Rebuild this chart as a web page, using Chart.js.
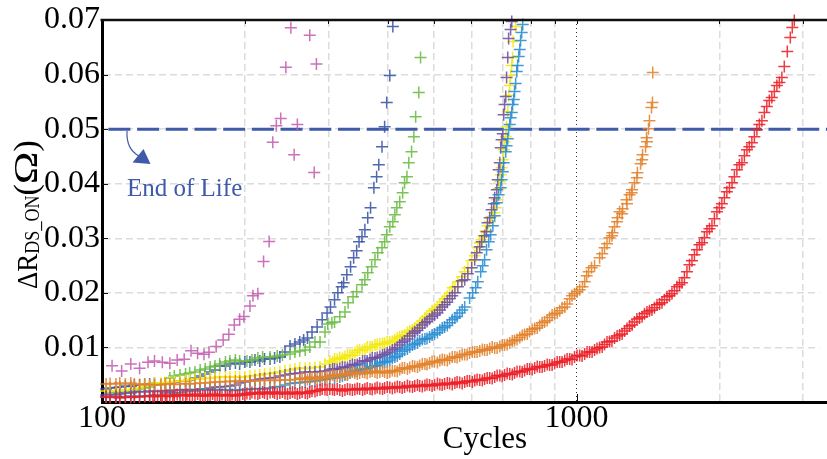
<!DOCTYPE html>
<html>
<head>
<meta charset="utf-8">
<script src="https://cdn.jsdelivr.net/npm/chart.js@4"></script>
<style>
  html, body { margin: 0; padding: 0; background: #fff; }
  #wrap { width: 827px; height: 459px; }
</style>
</head>
<body>
<div id="wrap"><canvas id="chart" width="827" height="459"></canvas></div>
<script>
const FONT = "'Liberation Serif', 'Times New Roman', serif";

// grid lines on the cycle axis, and the few that carry a label
const xTicks = [100, 200, 300, 400, 500, 600, 700, 800, 900, 1000, 2000, 3000];
const xLabels = [100, 1000];
const X_MIN = 100, X_MAX = 3249;
const yTicks = [0.01, 0.02, 0.03, 0.04, 0.05, 0.06, 0.07];
const Y_MIN = 0, Y_MAX = 0.07, Y_STEP = 0.01;
// end of life threshold (ohm)
const EOL = 0.05;

// [cycles, delta R_DS_ON] for each device
const magenta = [[105,0.00666],[110,0.00569],[115,0.00697],[120,0.00618],[125,0.00728],[129,0.00752],[134,0.00728],[139,0.0071],[144,0.00771],[149,0.00783],[154,0.00941],[159,0.00894],[164,0.00875],[168,0.00912],[174,0.01015],[180,0.01138],[185,0.01242],[190,0.01413],[195,0.01517],[199,0.01565],[205,0.01761],[208,0.01945],[213,0.01982],[219,0.02574],[225,0.02941],[229,0.04758],[233,0.05064],[238,0.05193],[244,0.06134],[250,0.06857],[254,0.04532],[258,0.05083],[274,0.06721],[280,0.04207],[283,0.06196]];

const blue = [[102,0.00239],[104,0.00257],[107,0.00266],[109,0.00275],[112,0.00294],[115,0.00284],[117,0.00312],[120,0.00312],[123,0.00321],[126,0.0033],[129,0.00349],[133,0.0033],[136,0.00349],[139,0.00349],[142,0.00367],[146,0.00385],[150,0.00385],[153,0.00404],[157,0.0044],[161,0.00477],[165,0.00514],[169,0.0055],[173,0.00587],[177,0.00661],[182,0.00661],[186,0.00697],[191,0.00716],[195,0.00697],[200,0.00734],[205,0.00734],[210,0.00771],[215,0.00752],[220,0.00789],[226,0.00789],[231,0.00807],[237,0.00826],[243,0.00917],[249,0.01028],[255,0.01064],[261,0.01101],[266,0.01138],[271,0.01174],[277,0.01284],[284,0.01376],[291,0.01505],[298,0.01633],[303,0.01743],[309,0.01872],[314,0.02],[320,0.0211],[323,0.02184],[328,0.0233],[334,0.02477],[339,0.02642],[344,0.02771],[348,0.02936],[353,0.03028],[358,0.03156],[363,0.03376],[368,0.0356],[374,0.03927],[379,0.04128],[383,0.04349],[389,0.04679],[394,0.05046],[398,0.05486],[404,0.05982],[410,0.06881]];

const green = [[104,0.00165],[107,0.00183],[109,0.00165],[112,0.00202],[115,0.00202],[117,0.0022],[120,0.00239],[123,0.00257],[126,0.00275],[129,0.00312],[133,0.0033],[136,0.00349],[139,0.0044],[142,0.00477],[146,0.00495],[150,0.00514],[153,0.00532],[157,0.0055],[161,0.00587],[165,0.00606],[169,0.00642],[173,0.00661],[177,0.00697],[182,0.00734],[186,0.00752],[191,0.00771],[195,0.00752],[202,0.00752],[207,0.00771],[213,0.00807],[218,0.00826],[226,0.00826],[234,0.00844],[240,0.00862],[249,0.00881],[255,0.00917],[261,0.00936],[268,0.00954],[274,0.01009],[281,0.01101],[288,0.01101],[295,0.01284],[299,0.01431],[305,0.0145],[309,0.01468],[317,0.0156],[325,0.01651],[330,0.01817],[338,0.01927],[344,0.02018],[353,0.02147],[358,0.02239],[363,0.02367],[370,0.02477],[376,0.02606],[381,0.02734],[389,0.02826],[394,0.02936],[398,0.03064],[404,0.03211],[410,0.03303],[414,0.03431],[418,0.0356],[424,0.0367],[430,0.03835],[434,0.04018],[439,0.04128],[443,0.04385],[449,0.04587],[454,0.04862],[458,0.05229],[465,0.0567],[469,0.06312]];

const yellow = [[102,0.00202],[104,0.00211],[107,0.00202],[109,0.0022],[112,0.00211],[115,0.0022],[117,0.00239],[120,0.00257],[123,0.00294],[126,0.00312],[129,0.00349],[133,0.00349],[136,0.00358],[139,0.00367],[142,0.00376],[146,0.00385],[150,0.00394],[153,0.00413],[157,0.00422],[161,0.00422],[165,0.0044],[169,0.0044],[173,0.0045],[177,0.00459],[182,0.00459],[186,0.00459],[191,0.00459],[195,0.00459],[200,0.00459],[205,0.00477],[210,0.00486],[215,0.00495],[220,0.00514],[226,0.00523],[231,0.00532],[237,0.0055],[243,0.00569],[249,0.00587],[255,0.00606],[261,0.00624],[268,0.00615],[274,0.00624],[281,0.00633],[288,0.00642],[295,0.00697],[302,0.00752],[309,0.00789],[317,0.00817],[325,0.00835],[333,0.00862],[341,0.00908],[349,0.00954],[358,0.00972],[367,0.01009],[376,0.01046],[385,0.01064],[394,0.01073],[404,0.01101],[414,0.01138],[424,0.01193],[434,0.01229],[445,0.01303],[456,0.01358],[467,0.01431],[479,0.01541],[490,0.01615],[502,0.01706],[515,0.0178],[527,0.0189],[540,0.02],[548,0.02092],[554,0.0211],[562,0.02202],[573,0.02294],[581,0.02385],[590,0.02459],[601,0.02587],[610,0.02679],[619,0.02826],[625,0.02917],[631,0.02973],[637,0.03046],[643,0.03138],[649,0.03229],[656,0.03303],[662,0.03395],[669,0.03468],[675,0.0356],[679,0.03706],[685,0.03908],[689,0.04037],[692,0.04165],[695,0.04294],[699,0.0444],[702,0.04624],[705,0.04771],[709,0.04862],[712,0.05046],[716,0.05321],[719,0.05615],[723,0.05798],[726,0.05982],[730,0.06165],[733,0.06312],[735,0.06606],[744,0.06881],
  [306,0.00734],[313,0.0078],[321,0.00798],[329,0.00862],[337,0.00853],[345,0.00945],[354,0.00945],[362,0.01009],[371,0.01009],[380,0.01055],[390,0.01073],[399,0.01101],[409,0.0111],[419,0.01174],[429,0.01211],[440,0.01275],[451,0.01321],[462,0.01394],[473,0.01486],[484,0.01569],[496,0.0167],[509,0.01734],[521,0.01835],[534,0.01936]];

const purple = [[102,0.00128],[104,0.00138],[107,0.00128],[109,0.00147],[112,0.00165],[115,0.00165],[117,0.00183],[120,0.00193],[123,0.00183],[126,0.00202],[129,0.00193],[133,0.00202],[136,0.00211],[139,0.00202],[142,0.0022],[146,0.0022],[150,0.00229],[153,0.0022],[157,0.00229],[161,0.00239],[165,0.00239],[169,0.00257],[173,0.00275],[177,0.00275],[182,0.00284],[186,0.00294],[191,0.00312],[195,0.00349],[200,0.00367],[205,0.00385],[210,0.00404],[215,0.00422],[220,0.00431],[226,0.0044],[231,0.0045],[237,0.00477],[243,0.00495],[249,0.00514],[255,0.00523],[261,0.00532],[268,0.0055],[274,0.0055],[281,0.0055],[288,0.0056],[295,0.00569],[302,0.00587],[309,0.00606],[317,0.00615],[325,0.00633],[333,0.00661],[341,0.00679],[349,0.00716],[358,0.00752],[367,0.0078],[376,0.00807],[385,0.00835],[394,0.00872],[404,0.00917],[414,0.00972],[424,0.01046],[434,0.01119],[445,0.01211],[456,0.01284],[467,0.01358],[479,0.0145],[490,0.01523],[502,0.01596],[515,0.01688],[527,0.0178],[540,0.0189],[554,0.02],[562,0.0211],[573,0.0222],[581,0.02239],[590,0.02349],[601,0.02459],[610,0.02606],[616,0.02734],[625,0.02844],[631,0.02936],[640,0.03046],[646,0.03119],[649,0.03284],[656,0.03376],[662,0.03523],[669,0.03633],[672,0.03743],[679,0.0389],[682,0.04073],[685,0.04257],[689,0.04385],[692,0.04661],[695,0.04807],[699,0.04917],[702,0.05266],[705,0.0545],[709,0.05596],[712,0.05945],[716,0.06312],[719,0.06661],[726,0.06826],[730,0.06973],
  [306,0.00606],[313,0.00596],[321,0.00642],[329,0.00633],[337,0.00688],[345,0.00688],[354,0.00752],[362,0.00752],[371,0.00807],[380,0.00817],[390,0.00862],[399,0.00899],[409,0.00954],[419,0.01],[429,0.01092],[440,0.01156],[451,0.01257],[462,0.01312],[473,0.01413],[484,0.01477],[496,0.01569],[509,0.01633],[521,0.01743],[534,0.01826],[547,0.01945]];

const lightBlue = [[102,0.00092],[104,0.00101],[107,0.00092],[109,0.00092],[112,0.00101],[115,0.0011],[117,0.00101],[120,0.0011],[123,0.0011],[126,0.00119],[129,0.00128],[133,0.00119],[136,0.00165],[139,0.00183],[142,0.00165],[146,0.00174],[150,0.00202],[153,0.00211],[157,0.00202],[161,0.0022],[165,0.00229],[169,0.0022],[173,0.0022],[177,0.00229],[182,0.0022],[186,0.0022],[191,0.00211],[195,0.0022],[200,0.00229],[205,0.00239],[210,0.00239],[215,0.00248],[220,0.00239],[226,0.00257],[231,0.00275],[237,0.00284],[243,0.00312],[249,0.00339],[255,0.00349],[261,0.00358],[268,0.00367],[274,0.00376],[281,0.00385],[288,0.00404],[295,0.00413],[302,0.00431],[309,0.0044],[317,0.00459],[325,0.00495],[333,0.00532],[341,0.00569],[349,0.00587],[358,0.00606],[367,0.00633],[376,0.00661],[385,0.00697],[394,0.00734],[404,0.00771],[414,0.00826],[424,0.00881],[434,0.00954],[445,0.01009],[456,0.01064],[467,0.01119],[479,0.01156],[490,0.01193],[502,0.01248],[515,0.01321],[527,0.01376],[540,0.0145],[554,0.01541],[567,0.01633],[581,0.01743],[595,0.01908],[604,0.02],[613,0.02092],[619,0.02202],[628,0.02385],[634,0.02495],[640,0.02606],[646,0.02789],[653,0.02936],[659,0.03064],[666,0.03229],[672,0.03413],[679,0.03651],[685,0.03798],[692,0.03927],[695,0.04073],[699,0.0422],[702,0.04385],[709,0.04587],[712,0.04697],[716,0.04826],[719,0.04991],[723,0.05083],[726,0.05211],[730,0.05303],[733,0.0545],[737,0.05541],[740,0.05688],[744,0.05835],[748,0.06055],[751,0.06165],[755,0.0633],[759,0.06459],[762,0.06624],[766,0.06771],[770,0.06918],
  [321,0.00477],[329,0.00505],[337,0.0056],[345,0.00569],[354,0.00606],[362,0.00615],[371,0.00651],[380,0.0067],[390,0.00725],[399,0.00743],[409,0.00807],[419,0.00844],[429,0.00927],[440,0.00972],[451,0.01046],[462,0.01083],[473,0.01147],[484,0.01165],[496,0.01229],[509,0.01275],[521,0.01358],[534,0.01404],[547,0.01505],[560,0.01569],[574,0.01688]];

const orange = [[102,0.0033],[104,0.00339],[107,0.0033],[109,0.00349],[112,0.0033],[115,0.00349],[117,0.0033],[120,0.00321],[123,0.0033],[126,0.00312],[129,0.00321],[133,0.00312],[136,0.0033],[139,0.0033],[142,0.00321],[146,0.0033],[150,0.00339],[153,0.0033],[157,0.00339],[161,0.00349],[165,0.00349],[169,0.00358],[173,0.00367],[177,0.00367],[182,0.00376],[186,0.00376],[191,0.00385],[195,0.00385],[200,0.00385],[205,0.00385],[210,0.00385],[215,0.00394],[220,0.00394],[226,0.00404],[231,0.00394],[237,0.00404],[243,0.00404],[249,0.00404],[255,0.00413],[261,0.00422],[268,0.00431],[274,0.0044],[281,0.0044],[288,0.0045],[295,0.00459],[302,0.00477],[309,0.00486],[317,0.00495],[325,0.00514],[333,0.00532],[341,0.00532],[349,0.00532],[358,0.00541],[367,0.0055],[376,0.0055],[385,0.0055],[394,0.0055],[404,0.0055],[414,0.00569],[424,0.00596],[434,0.00624],[445,0.00633],[456,0.00651],[467,0.0067],[479,0.00697],[490,0.00716],[502,0.00743],[515,0.00761],[527,0.00771],[540,0.00798],[554,0.00826],[567,0.00844],[581,0.00872],[595,0.00899],[610,0.00917],[625,0.00936],[640,0.00954],[656,0.00982],[672,0.00991],[689,0.01018],[705,0.01046],[723,0.01083],[740,0.01128],[759,0.01183],[777,0.01239],[796,0.01294],[816,0.01349],[836,0.01404],[856,0.01468],[877,0.0155],[899,0.01615],[921,0.0167],[944,0.01743],[967,0.0189],[990,0.01982],[1015,0.02055],[1029,0.0211],[1040,0.02202],[1050,0.02312],[1060,0.02385],[1075,0.02459],[1091,0.02495],[1118,0.02642],[1145,0.02826],[1173,0.03009],[1190,0.03101],[1202,0.03211],[1220,0.03376],[1232,0.03486],[1250,0.03541],[1274,0.03706],[1293,0.03798],[1306,0.03835],[1324,0.04018],[1343,0.04202],[1364,0.04367],[1377,0.04532],[1397,0.04679],[1404,0.04844],[1417,0.05009],[1424,0.05156],[1438,0.05395],[1445,0.05486],[1447,0.06037],
  [264,0.0044],[271,0.00413],[277,0.00459],[284,0.00422],[291,0.00468],[298,0.0044],[306,0.00495],[313,0.00468],[321,0.00514],[329,0.00495],[337,0.0055],[345,0.00514],[354,0.0055],[362,0.00523],[371,0.00569],[380,0.00532],[390,0.00569],[399,0.00532],[409,0.00578],[419,0.0056],[429,0.00624],[440,0.00606],[451,0.00661],[462,0.00642],[473,0.00697],[484,0.00688],[496,0.00743],[509,0.00725],[521,0.0078],[534,0.00761],[547,0.00826],[560,0.00817],[574,0.00872],[588,0.00872],[603,0.00917],[617,0.00917],[633,0.00963],[648,0.00954],[664,0.01009],[680,0.00991],[697,0.01046],[714,0.01055],[732,0.01119],[749,0.01147],[768,0.0122],[787,0.01248],[806,0.0133],[826,0.01358],[846,0.0145],[867,0.01495],[888,0.01596],[910,0.01633],[932,0.01725],[955,0.01798],[978,0.01945],[1002,0.02018],[1132,0.02716],[1159,0.02899],[1187,0.03046],[1217,0.03303],[1247,0.0345],[1277,0.03633],[1309,0.0389],[1340,0.0411],[1374,0.0444],[1407,0.04771]];

const red = [[102,0.00092],[104,0.00083],[107,0.00092],[109,0.00073],[112,0.00092],[115,0.00083],[117,0.00092],[120,0.00092],[123,0.00101],[126,0.0011],[129,0.00101],[133,0.0011],[136,0.0011],[139,0.0011],[142,0.00119],[146,0.00128],[150,0.00128],[153,0.00119],[157,0.00128],[161,0.00119],[165,0.0011],[169,0.00128],[173,0.00119],[177,0.00128],[182,0.00128],[186,0.00119],[191,0.0011],[195,0.00128],[200,0.00128],[205,0.00147],[210,0.00156],[215,0.00165],[220,0.00165],[226,0.00174],[231,0.00165],[237,0.00165],[243,0.00156],[249,0.00165],[255,0.00165],[261,0.00165],[268,0.00165],[274,0.00183],[281,0.00193],[288,0.0022],[295,0.00229],[302,0.00239],[309,0.0022],[317,0.0022],[325,0.0022],[333,0.00229],[341,0.00229],[349,0.00239],[358,0.00239],[367,0.00239],[376,0.00248],[385,0.00248],[394,0.00257],[404,0.00266],[414,0.00266],[424,0.00275],[434,0.00275],[445,0.00284],[456,0.00294],[467,0.00294],[479,0.00303],[490,0.00312],[502,0.00312],[515,0.00321],[527,0.0033],[540,0.00339],[554,0.00349],[567,0.00358],[581,0.00367],[595,0.00385],[610,0.00394],[625,0.00404],[640,0.00422],[656,0.0044],[672,0.00459],[689,0.00486],[705,0.00495],[723,0.00514],[740,0.00532],[759,0.0056],[777,0.00578],[796,0.00606],[816,0.00624],[836,0.00642],[856,0.00661],[877,0.00679],[899,0.00706],[921,0.00734],[944,0.00761],[967,0.00789],[990,0.00826],[1015,0.00853],[1040,0.00881],[1065,0.00917],[1091,0.00954],[1118,0.01],[1145,0.01055],[1173,0.0111],[1202,0.01174],[1232,0.01229],[1262,0.01303],[1293,0.01394],[1324,0.01468],[1357,0.01541],[1390,0.01615],[1424,0.0167],[1459,0.01725],[1495,0.01798],[1531,0.01872],[1569,0.01945],[1607,0.02037],[1647,0.02147],[1687,0.02275],[1729,0.02514],[1771,0.02697],[1815,0.02881],[1859,0.03009],[1905,0.03174],[1951,0.03358],[1999,0.0356],[2048,0.03743],[2099,0.03927],[2150,0.04128],[2203,0.04349],[2257,0.04514],[2312,0.04679],[2369,0.04862],[2427,0.05083],[2486,0.05303],[2547,0.05523],[2610,0.05688],[2674,0.05853],[2739,0.06147],[2779,0.06422],[2820,0.06679],[2847,0.06862],[2875,0.0699],
  [128,0.00101],[131,0.00119],[134,0.00101],[137,0.00128],[141,0.00101],[144,0.00138],[148,0.0011],[151,0.00138],[155,0.0011],[159,0.00147],[163,0.0011],[167,0.00128],[171,0.00147],[175,0.0011],[179,0.00138],[184,0.0011],[188,0.00138],[193,0.00128],[198,0.00147],[202,0.00156],[207,0.00174],[213,0.00147],[218,0.00183],[223,0.00147],[229,0.00183],[234,0.00147],[240,0.00183],[246,0.00147],[252,0.00183],[258,0.00147],
  [264,0.00183],[271,0.00156],[277,0.00202],[284,0.00211],[291,0.00239],[298,0.0022],[306,0.00229],[313,0.00239],[321,0.00202],[329,0.00239],[337,0.0022],[345,0.00248],[354,0.0022],[362,0.00257],[371,0.00229],[380,0.00266],[390,0.00239],[399,0.00275],[409,0.00248],[419,0.00284],[429,0.00257],[440,0.00303],[451,0.00275],[462,0.00312],[473,0.00284],[484,0.00321],[496,0.00294],[509,0.00339],[521,0.00312],[534,0.00349],[547,0.00321],[560,0.00367],[574,0.00339],[588,0.00385],[603,0.00367],[617,0.00413],[633,0.00394],[648,0.0044],[664,0.00431],[680,0.00486],[697,0.00468],[714,0.00523],[732,0.00505],[749,0.0056],[768,0.0055],[787,0.00606],[806,0.00596],[826,0.00651],[846,0.00642],[867,0.00688],[888,0.00679],[910,0.00734],[932,0.00734],[955,0.00789],[978,0.0078],[1002,0.00853],[1027,0.00844],[1052,0.00917],[1078,0.00917],[1104,0.00982],[1132,0.01009],[1159,0.01101],[1187,0.01119],[1217,0.01211],[1247,0.01248],[1277,0.01349],[1309,0.01413],[1340,0.01523],[1374,0.0156],[1407,0.01651],[1441,0.01688],[1477,0.0178],[1513,0.01817],[1550,0.01927],[1588,0.01982],[1627,0.0211],[1667,0.02184],[1708,0.02385],[1750,0.02587],[1793,0.02789],[1837,0.02917],[1882,0.03119],[1928,0.03229],[1975,0.03486],[2023,0.03633],[2073,0.03853],[2125,0.04018],[2176,0.04257],[2230,0.04385],[2285,0.04624],[2340,0.04752],[2398,0.04991],[2457,0.05156],[2516,0.05413],[2578,0.05578],[2642,0.05798],[2707,0.05945]];

// first entry ends up drawn on top
const series = [
  { pts: red,       color: 'rgba(236, 32, 40, 0.88)' },
  { pts: orange,    color: 'rgba(226, 130, 43, 0.88)' },
  { pts: lightBlue, color: 'rgba(40, 140, 210, 0.88)' },
  { pts: purple,    color: 'rgba(110, 79, 160, 0.88)' },
  { pts: yellow,    color: 'rgba(244, 234, 20, 0.95)' },
  { pts: green,     color: 'rgba(108, 189, 69, 0.9)' },
  { pts: blue,      color: 'rgba(61, 88, 168, 0.9)' },
  { pts: magenta,   color: 'rgba(197, 97, 179, 0.9)' }
];

const EOL_BLUE = '#3f5aa8';

// threshold line, frame edges, small axis ticks, titles and the "End of Life" note
const decorations = {
  id: 'decorations',
  beforeDatasetsDraw(chart) {
    const { ctx, chartArea, scales } = chart;
    const y = scales.y.getPixelForValue(EOL);
    ctx.save();
    ctx.strokeStyle = EOL_BLUE;
    ctx.lineWidth = 3;
    ctx.setLineDash([22, 6.7]);
    ctx.lineDashOffset = -6.4;
    ctx.beginPath();
    ctx.moveTo(chartArea.left, y);
    ctx.lineTo(chart.width, y);
    ctx.stroke();
    ctx.restore();
  },
  afterDraw(chart) {
    const { ctx, chartArea, scales } = chart;
    ctx.save();

    // top edge of the frame, and the bottom axis carried to the canvas edge
    ctx.strokeStyle = '#111';
    ctx.lineWidth = 2.5;
    ctx.beginPath();
    ctx.moveTo(chartArea.left - 1.5, chartArea.top);
    ctx.lineTo(chart.width, chartArea.top);
    ctx.stroke();
    const yAxis = Math.round(chartArea.bottom) + 0.5;
    ctx.strokeStyle = '#000';
    ctx.lineWidth = 3;
    ctx.beginPath();
    ctx.moveTo(chartArea.right - 2, yAxis);
    ctx.lineTo(chart.width, yAxis);
    ctx.stroke();

    // short inward ticks on the left axis and under the top edge
    ctx.strokeStyle = '#111';
    ctx.lineWidth = 1;
    ctx.beginPath();
    yTicks.forEach(v => {
      const py = Math.round(scales.y.getPixelForValue(v)) + 0.5;
      ctx.moveTo(chartArea.left, py);
      ctx.lineTo(chartArea.left + 6, py);
    });
    xTicks.slice(1).forEach(v => {
      const px = Math.round(scales.x.getPixelForValue(v)) + 0.5;
      ctx.moveTo(px, chartArea.top);
      ctx.lineTo(px, chartArea.top + 4);
    });
    const p1000 = Math.round(scales.x.getPixelForValue(1000)) + 0.5;
    ctx.moveTo(p1000, chartArea.bottom);
    ctx.lineTo(p1000, chartArea.bottom - 8);
    ctx.stroke();

    // x title
    ctx.fillStyle = '#000';
    ctx.font = '31px ' + FONT;
    ctx.textAlign = 'center';
    ctx.textBaseline = 'alphabetic';
    ctx.fillText('Cycles', 485, 448);

    // y title: ΔR with DS_ON subscript, then (Ω)
    ctx.save();
    ctx.translate(37, 289);
    ctx.rotate(-Math.PI / 2);
    ctx.textAlign = 'left';
    ctx.save();
    ctx.scale(0.9, 1);
    ctx.font = '30px ' + FONT;
    ctx.fillText('ΔR', 0, 0);
    let x = ctx.measureText('ΔR').width;
    ctx.font = '20px ' + FONT;
    ctx.fillText('DS_ON', x, 2);
    x += ctx.measureText('DS_ON').width;
    ctx.restore();
    x *= 0.9;
    ctx.font = '34px ' + FONT;
    ctx.fillText('(', x, 0);
    x += ctx.measureText('(').width;
    const omegaW = ctx.measureText('Ω').width;
    const stretch = 1.3;
    ctx.save();
    ctx.translate(x, 0);
    ctx.scale(stretch, 1);
    ctx.fillText('Ω', 0, 0);
    ctx.restore();
    x += omegaW * stretch;
    ctx.fillText(')', x, 0);
    ctx.restore();

    // end of life note with curved arrow
    ctx.fillStyle = EOL_BLUE;
    ctx.strokeStyle = EOL_BLUE;
    ctx.font = '25px ' + FONT;
    ctx.textAlign = 'left';
    ctx.fillText('End of Life', 127, 196);
    ctx.lineWidth = 1.2;
    ctx.beginPath();
    ctx.moveTo(127, 131);
    ctx.quadraticCurveTo(126, 149, 139, 156);
    ctx.stroke();
    ctx.beginPath();
    ctx.moveTo(150.5, 164);
    ctx.lineTo(132.5, 162.5);
    ctx.lineTo(143.5, 149);
    ctx.closePath();
    ctx.fill();

    ctx.restore();
  }
};

const gridIsMain = (c) => c.tick && c.tick.value === 1000;

new Chart(document.getElementById('chart'), {
  type: 'scatter',
  data: {
    datasets: series.map(s => ({
      data: s.pts.map(([x, y]) => ({ x, y })),
      showLine: false,
      pointStyle: 'cross',
      pointRadius: 6,
      pointHoverRadius: 6,
      pointBorderWidth: 1.5,
      borderColor: s.color,
      backgroundColor: s.color,
      clip: false
    }))
  },
  options: {
    responsive: false,
    animation: false,
    events: [],
    layout: { padding: { top: 20, right: 0, left: 0, bottom: 0 } },
    plugins: { legend: { display: false }, tooltip: { enabled: false } },
    scales: {
      x: {
        type: 'logarithmic',
        min: X_MIN,
        max: X_MAX,
        afterBuildTicks(scale) { scale.ticks = xTicks.map(v => ({ value: v })); },
        afterFit(scale) { scale.height = 57; },
        ticks: {
          autoSkip: false,
          maxRotation: 0,
          padding: 1,
          color: '#000',
          font: { family: FONT, size: 32, lineHeight: 1 },
          callback: (v) => xLabels.includes(v) ? String(v) : ''
        },
        grid: {
          drawTicks: false,
          color: (c) => gridIsMain(c) ? '#333' : '#dcdcdc',
          lineWidth: (c) => gridIsMain(c) ? 1 : 1.5
        },
        border: {
          color: '#000',
          width: 3,
          dash: (c) => c.tick ? (gridIsMain(c) ? [1, 3] : [7, 4]) : []
        }
      },
      y: {
        min: Y_MIN,
        max: Y_MAX,
        afterFit(scale) { scale.width = 102; },
        ticks: {
          stepSize: Y_STEP,
          padding: 2,
          color: '#000',
          font: { family: FONT, size: 32, lineHeight: 1 },
          callback: (v) => v < 1e-9 ? '' : v.toFixed(2)
        },
        grid: {
          drawTicks: false,
          color: '#dcdcdc',
          lineWidth: 1.5
        },
        border: {
          color: '#000',
          width: 3,
          dash: (c) => c.tick ? [7, 4] : []
        }
      }
    }
  },
  plugins: [decorations]
});
</script>
</body>
</html>
